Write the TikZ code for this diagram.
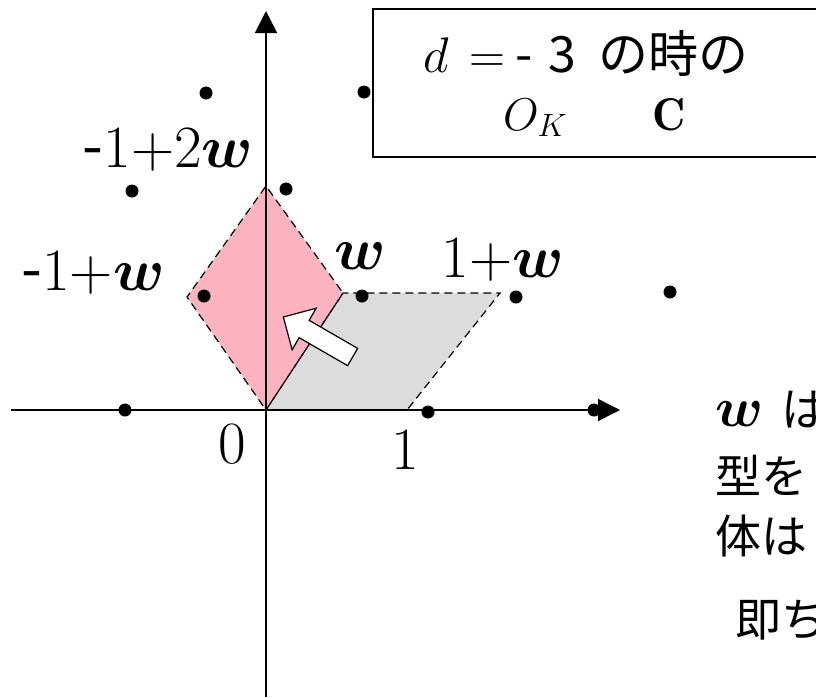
\RequirePackage{fix-cm}
\documentclass[tikz,border=0pt]{standalone}
\usepackage{amsmath,amssymb}
\usepackage{bm}
\usepackage{fontspec}
\newfontfamily\jpfont{Noto Sans CJK JP}
\usepackage{xcolor}
\usepackage{tikz}
\usetikzlibrary{arrows.meta}
\definecolor{rhombpink}{RGB}{251,178,193}
\definecolor{cellgray}{RGB}{220,220,220}

\begin{document}
\begin{tikzpicture}[x=1pt, y=-1pt,
  dot/.style={circle, fill=black, inner sep=0pt, minimum size=13pt},
  lbl/.style={inner sep=0pt, font=\fontsize{60}{60}\selectfont},
  boxtext/.style={inner sep=0pt, anchor=base west, font=\fontsize{50}{50}\selectfont},
  jptext/.style={inner sep=0pt, anchor=west, font=\fontsize{46}{46}\selectfont\jpfont},
  axis/.style={line width=1.5pt, -{Triangle[width=22pt,length=22pt]}},
  cell/.style={line width=1.2pt, dash pattern=on 8pt off 5pt}]
  \useasboundingbox (0,0) rectangle (816,697);
  \clip (0,0) rectangle (816,697);

  % Cell corners
  \coordinate (o) at (266,410);
  \coordinate (one) at (407,410);
  \coordinate (wv) at (343,293);
  \coordinate (onew) at (500,293);
  \coordinate (lv) at (187,297);
  \coordinate (tv) at (266,186);

  % Fundamental domains
  \fill[cellgray] (o) -- (one) -- (onew) -- (wv) -- cycle;
  \fill[rhombpink] (o) -- (wv) -- (tv) -- (lv) -- cycle;
  \draw[cell] (o) -- (one) -- (onew) -- (wv) -- cycle;
  \draw[cell] (o) -- (wv) -- (tv) -- (lv) -- cycle;

  % Axes
  \coordinate (xs) at (11,410);
  \coordinate (xe) at (620,410);
  \coordinate (ys) at (266,697);
  \coordinate (ye) at (266,11);
  \draw[axis] (xs) -- (xe);
  \draw[axis] (ys) -- (ye);

  % Lattice points
  \node[dot] (pm1) at (125,410) {};
  \node[dot] (p1) at (428,412) {};
  \node[dot] (p2) at (594,410) {};
  \node[dot] (pm1w) at (204,296) {};
  \node[dot] (pw) at (362,296) {};
  \node[dot] (p1w) at (516,297) {};
  \node[dot] (p2w) at (670,292) {};
  \node[dot] (pm2ww) at (132,191) {};
  \node[dot] (pm1ww) at (286,189) {};
  \node[dot] (pm2www) at (206,93) {};
  \node[dot] (pm1www) at (364,92) {};

  % Rotation arrow
  \begin{scope}[shift={(318,337)}, rotate=150]
    \draw[line width=1.2pt, fill=white] (-40,-10) -- (16,-10) -- (16,-24) -- (40,0)
      -- (16,24) -- (16,10) -- (-40,10) -- cycle;
  \end{scope}

  % Labels
  \node[lbl] (lm1p2w) at (168,150) {{\jpfont -}1+2$\bm{w}$};
  \node[lbl] (lm1pw) at (93,273) {{\jpfont -}1+$\bm{w}$};
  \node[lbl] (lw) at (360,256) {$\bm{w}$};
  \node[lbl] (l1pw) at (503,260) {1+$\bm{w}$};
  \node[lbl] (l0) at (232,444) {0};
  \node[lbl] (l1) at (405,450) {1};

  % Title box
  \coordinate (boxnw) at (373,9);
  \coordinate (boxse) at (830,157);
  \draw[line width=1.5pt] (boxnw) rectangle (boxse);
  \node[boxtext] (title) at (423,72) {$d$\hspace{21pt}$=$\hspace{10pt}{\jpfont -}\hspace{16pt}{\jpfont 3}\hspace{22pt}{\jpfont の時の}};
  \node[boxtext, font=\fontsize{46}{46}\selectfont] (ring) at (503,130) {$O_K$\hspace{85pt}$\mathbf{C}$};

  % Side note
  \node[jptext] (note1) at (715,410) {{\fontsize{56}{56}\selectfont$\bm{w}$}\hspace{18pt}は};
  \node[jptext] (note2) at (715,475) {型を};
  \node[jptext] (note3) at (715,536) {体は};
  \node[jptext] (note4) at (735,620) {即ち};
\end{tikzpicture}
\end{document}
